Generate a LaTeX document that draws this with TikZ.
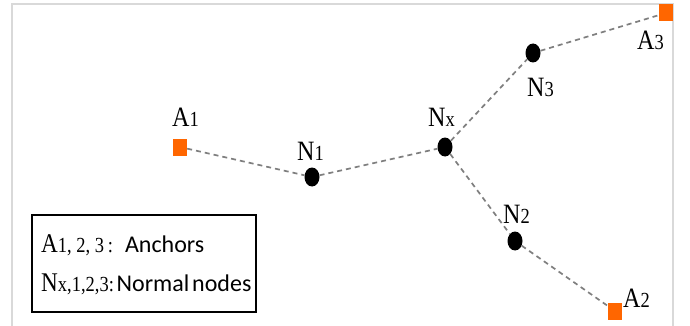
\documentclass[tikz,border=0pt]{standalone}
\usepackage{fontspec}
\setmainfont{Liberation Serif}
\newfontfamily\lblfont[FakeStretch=0.86]{Liberation Serif}
\newfontfamily\legsans{Carlito}
\usetikzlibrary{shapes.geometric}
\definecolor{anc}{HTML}{FF6600}
\definecolor{linkgray}{HTML}{7F7F7F}
\definecolor{framegray}{HTML}{D9D9D9}
\newcommand\smallsub[1]{{\fontsize{21.5}{21.5}\selectfont #1}}
\tikzset{
  anchorsq/.style={rectangle, fill=anc, minimum width=14pt, minimum height=17pt, inner sep=0pt},
  normnode/.style={ellipse, fill=black, minimum width=15pt, minimum height=19pt, inner sep=0pt},
  lbl/.style={anchor=base west, inner sep=0pt, font=\lblfont\fontsize{28}{28}\selectfont},
  legtext/.style={anchor=base west, inner sep=0pt, font=\lblfont\fontsize{27}{27}\selectfont},
  link/.style={draw=linkgray, dash pattern=on 5pt off 4pt, line width=1.7pt},
  legbox/.style={draw=black, line width=2pt, rectangle, minimum width=224pt, minimum height=97pt, inner sep=0pt},
}
\begin{document}
\begin{tikzpicture}[x=1pt,y=-1pt]
\useasboundingbox (0,0) rectangle (690,326);
\fill[white] (0,0) rectangle (690,326);
% frame
\draw[framegray, line width=2pt] (12,345) -- (12,4) -- (673,4) -- (673,345);
% nodes
\node[anchorsq] (A1) at (180,147) {};
\node[normnode] (N1) at (312,177) {};
\node[normnode] (Nx) at (445,147) {};
\node[normnode] (N3) at (533,53) {};
\node[anchorsq] (A3) at (666,13) {};
\node[normnode] (N2) at (515,241) {};
\node[anchorsq] (A2) at (615,311) {};
% links
\draw[link] (A1) -- (N1);
\draw[link] (N1) -- (Nx);
\draw[link] (Nx) -- (N3);
\draw[link] (N3) -- (A3);
\draw[link] (Nx) -- (N2);
\draw[link] (N2) -- (A2);
% labels
\node[lbl] (lA1) at (172,127) {A\smallsub{1}};
\node[lbl] (lN1) at (297,160) {N\smallsub{1}};
\node[lbl] (lNx) at (428,127) {N\smallsub{x}};
\node[lbl] (lN3) at (527,97) {N\smallsub{3}};
\node[lbl] (lA3) at (637,50) {A\smallsub{3}};
\node[lbl] (lN2) at (503,223) {N\smallsub{2}};
\node[lbl] (lA2) at (623,307) {A\smallsub{2}};
% legend
\node[legbox] (legend) at (144,263.5) {};
\node[legtext] (leg1) at (41,252) {A\smallsub{1, 2, 3\,:}\hspace{0.45em}{\legsans\fontsize{24}{24}\selectfont Anchors}};
\node[legtext] (leg2) at (41,291) {N\smallsub{x,1,2,3:}\hspace{0.1em}{\legsans\fontsize{24}{24}\selectfont Normal\hspace{0.12em}nodes}};
\end{tikzpicture}
\end{document}
